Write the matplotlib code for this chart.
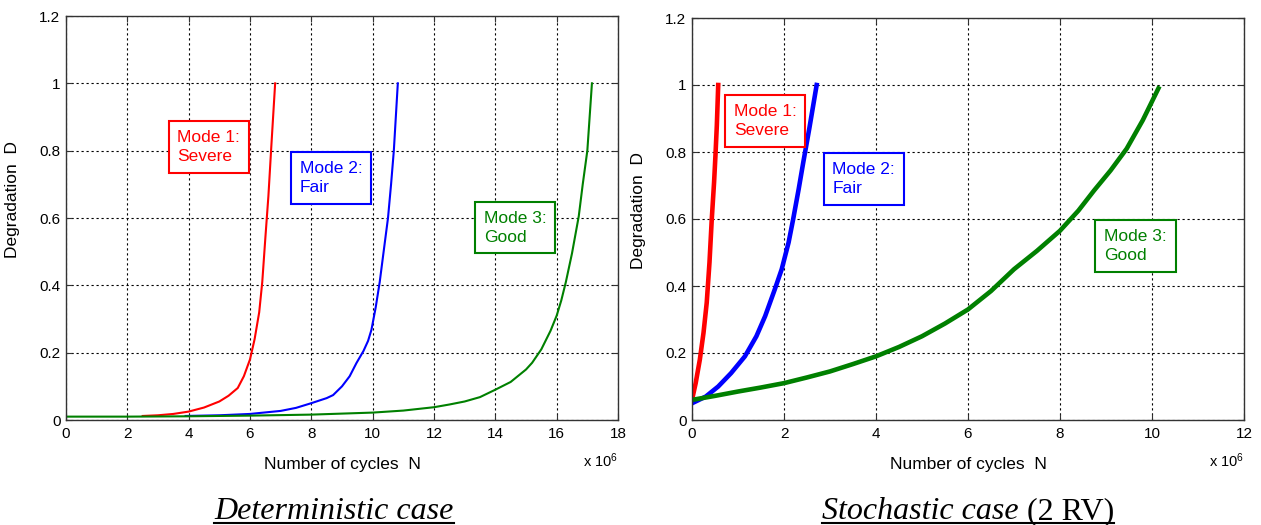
import matplotlib
matplotlib.use("Agg")
import matplotlib.pyplot as plt
from matplotlib.lines import Line2D

plt.rcParams['font.family'] = ['Liberation Sans', 'DejaVu Sans']
plt.rcParams['mathtext.default'] = 'regular'

# deterministic case (N in units of 1e6 cycles)
det_n1 = [2.5, 3.0, 3.5, 4.0, 4.5, 5.0, 5.3, 5.6, 5.8, 6.0, 6.15, 6.3, 6.4, 6.5, 6.6, 6.7, 6.82]
det_d1 = [0.012, 0.014, 0.018, 0.025, 0.037, 0.055, 0.072, 0.095, 0.13, 0.18, 0.24, 0.32, 0.41, 0.54, 0.665, 0.82, 1.0]
det_n2 = [3.9, 5.0, 6.0, 7.0, 7.5, 8.0, 8.5, 8.71, 9.0, 9.25, 9.47, 9.7, 9.85, 9.96, 10.1, 10.23, 10.4, 10.5, 10.6, 10.69, 10.82]
det_d2 = [0.012, 0.014, 0.018, 0.027, 0.036, 0.05, 0.065, 0.074, 0.10, 0.13, 0.169, 0.205, 0.235, 0.268, 0.335, 0.41, 0.53, 0.60, 0.70, 0.80, 1.0]
det_n3 = [0, 2, 4, 6, 8, 10, 11, 12, 12.5, 13, 13.5, 14, 14.5, 15.0, 15.2, 15.5, 15.8, 16.0, 16.15, 16.3, 16.5, 16.72, 16.85, 17.0, 17.15]
det_d3 = [0.01, 0.01, 0.011, 0.013, 0.016, 0.022, 0.028, 0.038, 0.046, 0.055, 0.068, 0.09, 0.113, 0.15, 0.17, 0.21, 0.265, 0.31, 0.355, 0.41, 0.495, 0.605, 0.70, 0.80, 1.0]

# stochastic case
sto_n1 = [0, 0.08, 0.17, 0.25, 0.32, 0.38, 0.43, 0.48, 0.51, 0.54, 0.57]
sto_d1 = [0.06, 0.11, 0.18, 0.26, 0.35, 0.47, 0.60, 0.71, 0.79, 0.88, 1.0]
sto_n2 = [0, 0.3, 0.57, 0.85, 1.15, 1.4, 1.59, 1.8, 1.95, 2.1, 2.2, 2.32, 2.42, 2.55, 2.71]
sto_d2 = [0.05, 0.07, 0.10, 0.14, 0.19, 0.25, 0.31, 0.39, 0.45, 0.53, 0.60, 0.69, 0.77, 0.87, 1.0]
sto_n3 = [0, 0.5, 1, 1.5, 2, 2.5, 3, 3.5, 4, 4.5, 5, 5.5, 6, 6.5, 7, 7.5, 8, 8.4, 8.74, 9.1, 9.45, 9.8, 10.14]
sto_d3 = [0.06, 0.072, 0.085, 0.097, 0.11, 0.127, 0.145, 0.167, 0.19, 0.218, 0.25, 0.288, 0.33, 0.385, 0.45, 0.505, 0.565, 0.625, 0.685, 0.745, 0.81, 0.895, 0.99]

mode_labels = ['Mode 1:\nSevere', 'Mode 2:\nFair', 'Mode 3:\nGood']
colors = ['#ff0000', '#0000ff', '#008000']
yticks = [0, 0.2, 0.4, 0.6, 0.8, 1, 1.2]
ytick_labels = ['0', '0.2', '0.4', '0.6', '0.8', '1', '1.2']

fig = plt.figure(figsize=(12.61, 5.25), dpi=100)
ax1 = fig.add_axes([66/1261, 105/525, 552/1261, 404/525])
ax2 = fig.add_axes([692/1261, 105/525, 552/1261, 402/525])


def style(ax, xmax, xstep, ylab_y):
    ax.set_xlim(0, xmax)
    ax.set_ylim(0, 1.2)
    ax.set_xticks(range(0, xmax + 1, xstep))
    ax.set_yticks(yticks)
    ax.set_yticklabels(ytick_labels)
    ax.grid(True, color='black', linestyle=(0, (2, 2.5)), linewidth=0.8)
    ax.tick_params(direction='in', top=True, right=True, length=4, labelsize=11, color='#333333')
    ax.tick_params(axis='x', pad=5)
    ax.tick_params(axis='y', pad=4)
    for s in ax.spines.values():
        s.set_color('#333333')
        s.set_linewidth(1.0)
    ax.set_xlabel('Number of cycles  N', fontsize=12.5)
    ax.set_ylabel('Degradation  D', fontsize=12.5)
    ax.xaxis.set_label_coords(0.5, -0.092)
    ax.yaxis.set_label_coords(-0.083, ylab_y)
    ax.text(1.0, -0.1, 'x 10$^6$', transform=ax.transAxes, ha='right', va='center', fontsize=10.5)


style(ax1, 18, 2, 0.545)
style(ax2, 12, 2, 0.52)

for n, d, c in zip([det_n1, det_n2, det_n3], [det_d1, det_d2, det_d3], colors):
    ax1.plot(n, d, color=c, linewidth=1.5)
for n, d, c in zip([sto_n1, sto_n2, sto_n3], [sto_d1, sto_d2, sto_d3], colors):
    ax2.plot(n, d, color=c, linewidth=3.3)

# mode boxes
det_pos = [(3.63, 0.862), (7.63, 0.770), (13.63, 0.622)]
sto_pos = [(0.91, 0.944), (3.05, 0.771), (8.96, 0.571)]
for ax, pos in [(ax1, det_pos), (ax2, sto_pos)]:
    for (x, y), lab, c in zip(pos, mode_labels, colors):
        ax.text(x, y, lab, color=c, fontsize=12.5, ha='left', va='top', linespacing=1.35,
                bbox=dict(boxstyle='square,pad=0.5', facecolor='white', edgecolor=c, linewidth=1.5))

# captions
fig.canvas.draw()
r = fig.canvas.get_renderer()
cap_y = (525 - 519) / 525
t1 = fig.text(334 / 1261, cap_y, 'Deterministic case', family='Liberation Serif', style='italic',
              fontsize=23, ha='center', va='baseline')
t2 = fig.text(822 / 1261, cap_y, 'Stochastic case', family='Liberation Serif', style='italic',
              fontsize=23, ha='left', va='baseline')
fig.canvas.draw()
e2 = t2.get_window_extent(r)
t3 = fig.text(e2.x1 / 1261, cap_y, ' (2 RV)', family='Liberation Serif', fontsize=23,
              ha='left', va='baseline')
fig.canvas.draw()
e1 = t1.get_window_extent(r)
e3 = t3.get_window_extent(r)
ul_y = (525 - 523) / 525
fig.add_artist(Line2D([e1.x0 / 1261, e1.x1 / 1261], [ul_y, ul_y], color='black', linewidth=1.5,
                      transform=fig.transFigure))
fig.add_artist(Line2D([e2.x0 / 1261, e3.x1 / 1261], [ul_y, ul_y], color='black', linewidth=1.5,
                      transform=fig.transFigure))

fig.savefig('out.png', dpi=100)
